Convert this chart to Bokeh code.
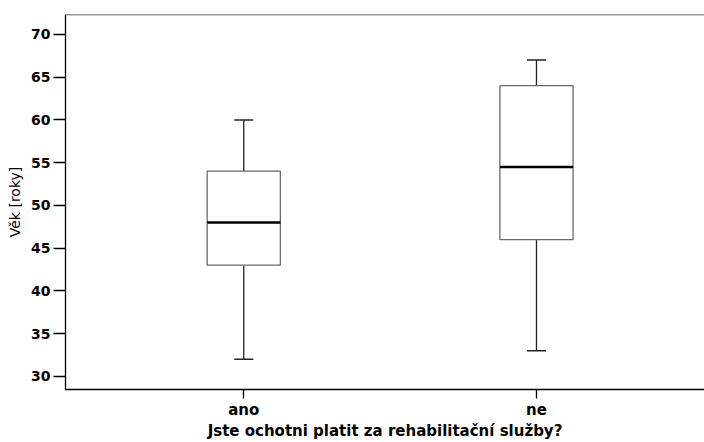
from bokeh.plotting import figure
from bokeh.models import Range1d, FixedTicker, Span
from bokeh.embed import file_html
from bokeh.resources import INLINE

categories = ["ano", "ne"]
whisker_low = [32, 33]
q1 = [43, 46]
median = [48, 54.5]
q3 = [54, 64]
whisker_high = [60, 67]
y_ticks = [30, 35, 40, 45, 50, 55, 60, 65, 70]
x_title = "Jste ochotni platit za rehabilitační služby?"
y_title = "Věk [roky]"

xs = [i + 0.5 for i in range(len(categories))]
box_w = 0.25
cap_w = 0.065

W, H = 704, 442
top_b, bot_b, left_b = 14, 52, 65
px_per_unit = 8.569
y_end = 72.334
y_start = y_end - (H - top_b - bot_b) / px_per_unit

p = figure(width=W, height=H, output_backend="svg", toolbar_location=None,
           x_range=Range1d(-0.109, 2.074), y_range=Range1d(y_start, y_end),
           min_border_top=top_b, min_border_right=0, min_border_left=left_b,
           min_border_bottom=bot_b)
p.outline_line_color = None
p.grid.visible = False
p.background_fill_color = "white"

# whiskers
p.segment(x0=xs, y0=q3, x1=xs, y1=whisker_high, line_color="#222222", line_width=1.3)
p.segment(x0=xs, y0=q1, x1=xs, y1=whisker_low, line_color="#222222", line_width=1.3)
p.segment(x0=[x - cap_w / 2 for x in xs], y0=whisker_high, x1=[x + cap_w / 2 for x in xs],
          y1=whisker_high, line_color="#222222", line_width=1.5)
p.segment(x0=[x - cap_w / 2 for x in xs], y0=whisker_low, x1=[x + cap_w / 2 for x in xs],
          y1=whisker_low, line_color="#222222", line_width=1.5)
# boxes
p.vbar(x=xs, width=box_w, bottom=q1, top=q3, fill_color="white", line_color="#6a6a6a", line_width=1.3)
# medians
p.segment(x0=[x - box_w / 2 for x in xs], y0=median, x1=[x + box_w / 2 for x in xs],
          y1=median, line_color="black", line_width=2.5)

# top border
p.add_layout(Span(location=y_end, dimension="width", line_color="#333333", line_width=1.5))

xa = p.xaxis[0]
xa.ticker = FixedTicker(ticks=xs)
xa.major_label_overrides = {x: c for x, c in zip(xs, categories)}
xa.minor_tick_line_color = None
xa.major_tick_out = 9
xa.major_tick_in = 0
xa.major_label_standoff = 2
xa.major_label_text_font = "DejaVu Sans"
xa.major_label_text_font_style = "bold"
xa.major_label_text_font_size = "15px"
xa.major_label_text_color = "black"
xa.axis_label = x_title
xa.axis_label_text_font = "DejaVu Sans"
xa.axis_label_text_font_style = "bold"
xa.axis_label_text_font_size = "15px"
xa.axis_label_text_color = "black"
xa.axis_label_standoff = 0
xa.axis_line_color = "black"
xa.axis_line_width = 1.3
xa.major_tick_line_color = "black"
xa.major_tick_line_width = 1.3

ya = p.yaxis[0]
ya.ticker = FixedTicker(ticks=y_ticks)
ya.minor_tick_line_color = None
ya.major_tick_out = 12
ya.major_tick_in = 0
ya.major_label_standoff = 3
ya.major_label_text_font = "DejaVu Sans"
ya.major_label_text_font_style = "bold"
ya.major_label_text_font_size = "14px"
ya.major_label_text_color = "black"
ya.axis_label = y_title
ya.axis_label_text_font = "DejaVu Sans"
ya.axis_label_text_font_style = "normal"
ya.axis_label_text_font_size = "14px"
ya.axis_label_text_color = "black"
ya.axis_label_standoff = 5
ya.axis_line_color = "black"
ya.axis_line_width = 1.3
ya.major_tick_line_color = "black"
ya.major_tick_line_width = 1.3

open("out.html", "w").write(file_html(p, INLINE))
